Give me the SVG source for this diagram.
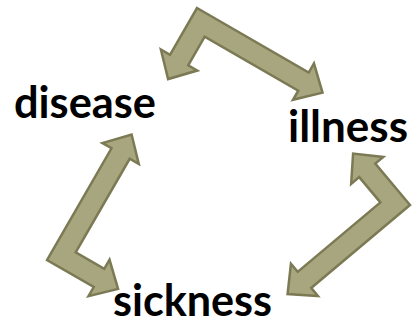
<svg xmlns="http://www.w3.org/2000/svg" width="420" height="331" viewBox="0 0 420 331">
  <style>
    .arrow { fill: #a8a67e; stroke: #7b7a55; stroke-width: 2.5; stroke-linejoin: miter; }
    .label { font-family: Lato, "Open Sans", "Liberation Sans", sans-serif; font-weight: 700; font-size: 44px; fill: #000; }
  </style>
  <defs>
    <polygon id="bent" points="0,0 129,0 129,-10.5 151,10.5 129,31.5 129,21 21,21 21,54 31.5,54 10.5,76 -10.5,54 0,54"/>
  </defs>
  <g id="connectors">
    <use href="#bent" class="arrow" transform="translate(197,8) rotate(30)"/>
    <use href="#bent" class="arrow" transform="translate(410,205) rotate(140)"/>
    <use href="#bent" class="arrow" transform="translate(47,260) rotate(-60)"/>
  </g>
  <g id="disease"><text class="label" x="14" y="118" textLength="142" lengthAdjust="spacingAndGlyphs">disease</text></g>
  <g id="illness"><text class="label" x="288" y="142" textLength="120" lengthAdjust="spacingAndGlyphs">illness</text></g>
  <g id="sickness"><text class="label" x="113" y="316" textLength="159" lengthAdjust="spacingAndGlyphs">sickness</text></g>
</svg>
